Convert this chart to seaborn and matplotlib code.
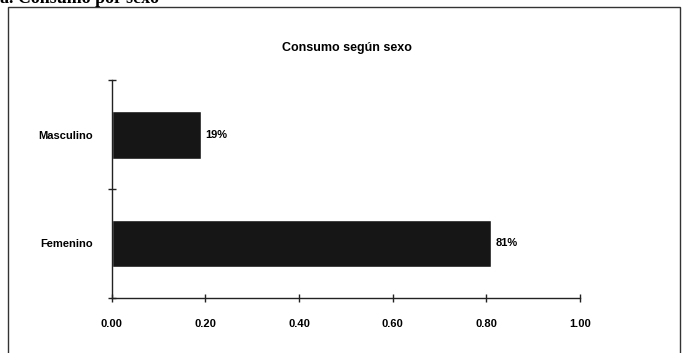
import matplotlib
matplotlib.use("Agg")
import matplotlib.pyplot as plt
import seaborn as sns
import pandas as pd

sexo = ["Masculino", "Femenino"]
proporcion = [0.19, 0.81]
etiquetas = ["19%", "81%"]
xticks = [0.0, 0.2, 0.4, 0.6, 0.8, 1.0]

df = pd.DataFrame({"sexo": sexo, "proporcion": proporcion})

sns.set_style("white")
plt.rcParams["font.family"] = ["Liberation Sans", "DejaVu Sans"]
plt.rcParams["text.color"] = "black"
plt.rcParams["xtick.color"] = "black"
plt.rcParams["ytick.color"] = "black"

fig = plt.figure(figsize=(6.82, 3.53), dpi=100)
ax = fig.add_axes([0.164, 0.156, 0.686, 0.617])

sns.barplot(data=df, x="proporcion", y="sexo", order=sexo, color="#161616",
            width=0.44, saturation=1, ax=ax)

for p, lab in zip(ax.patches, etiquetas):
    ax.text(p.get_width() + 0.01, p.get_y() + p.get_height() / 2, lab,
            va="center", ha="left", fontsize=8, fontweight="bold")

ax.set_xlim(0, 1.0)
ax.set_ylim(1.5, -0.5)
ax.set_xticks(xticks)
ax.set_xticklabels([f"{v:.2f}" for v in xticks], fontsize=8, fontweight="bold")
ax.set_yticks([0, 1])
ax.set_yticklabels(sexo, fontsize=8, fontweight="bold")
ax.set_yticks([-0.5, 0.5, 1.5], minor=True)
ax.tick_params(axis="y", which="major", left=True, length=0, pad=14)
ax.tick_params(axis="y", which="minor", left=True, length=6, direction="inout",
               width=1, color="#222222")
ax.tick_params(axis="x", bottom=True, length=6, direction="inout", width=1,
               pad=12, color="#222222")
ax.set_xlabel("")
ax.set_ylabel("")
for s in ["top", "right"]:
    ax.spines[s].set_visible(False)
for s in ["left", "bottom"]:
    ax.spines[s].set_color("#222222")
    ax.spines[s].set_linewidth(1)

fig.text(0.509, 0.865, "Consumo según sexo", ha="center", va="center",
         fontsize=9, fontweight="bold")

# marco del gráfico
fig.add_artist(plt.Rectangle((0.012, -0.01), 0.985, 0.99, fill=False,
                             edgecolor="#333333", linewidth=1,
                             transform=fig.transFigure))
fig.text(0.0, 1.005, "a. Consumo por sexo", ha="left", va="center",
         fontsize=13, fontweight="bold", family="Liberation Serif")

fig.savefig("out.png", dpi=100, facecolor="white")
